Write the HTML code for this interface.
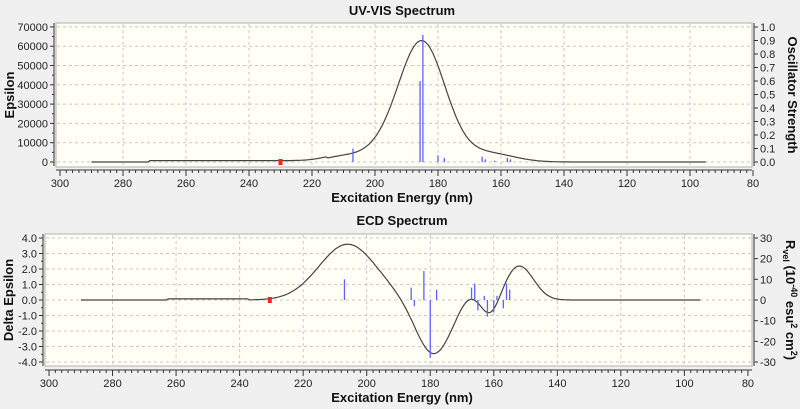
<!DOCTYPE html>
<html><head><meta charset="utf-8"><style>
body{margin:0;background:#f0f0f0;}
svg{display:block;font-family:"Liberation Sans",sans-serif;}
.t{font-size:11px;fill:#222}
.h{font-size:13px;font-weight:bold;fill:#111}
.g{stroke:#c8c8c8;stroke-dasharray:3,3;stroke-width:1}
</style></head><body>
<svg id="s" width="800" height="409" xmlns="http://www.w3.org/2000/svg">
<text class="h" x="402" y="15" text-anchor="middle">UV-VIS Spectrum</text>
<text class="h" x="402" y="225" text-anchor="middle">ECD Spectrum</text>
<text class="h" x="402" y="202" text-anchor="middle">Excitation Energy (nm)</text>
<text class="h" x="402" y="402" text-anchor="middle">Excitation Energy (nm)</text>
<text class="h" transform="translate(14,95) rotate(-90)" text-anchor="middle">Epsilon</text>
<text class="h" transform="translate(788,95) rotate(90)" text-anchor="middle">Oscillator Strength</text>
<text class="h" transform="translate(13,300) rotate(-90)" text-anchor="middle">Delta Epsilon</text>
<text class="h" transform="translate(786,300) rotate(90)" text-anchor="middle">R<tspan font-size="9" dy="3">vel</tspan><tspan dy="-3"> (10</tspan><tspan font-size="9" dy="-5">-40</tspan><tspan dy="5"> esu</tspan><tspan font-size="9" dy="-5">2</tspan><tspan dy="5"> cm</tspan><tspan font-size="9" dy="-5">2</tspan><tspan dy="5">)</tspan></text>
<g id="dyn"></g>
</svg>
<script>
const NS="http://www.w3.org/2000/svg",g=document.getElementById('dyn');
function el(n,a,t){const e=document.createElementNS(NS,n);for(const k in a)e.setAttribute(k,a[k]);if(t!==undefined)e.textContent=t;g.appendChild(e);return e;}
// TOP
const tx=nm=>60+(300-nm)*3.15, ty=v=>162-v/10000*19.3, tyo=f=>162-f*135;
el('rect',{x:56,y:23,width:696,height:144,fill:'#fffff6',stroke:'#b0b0b0'});
for(let nm=280;nm>80;nm-=20)el('line',{class:'g',x1:tx(nm),x2:tx(nm),y1:24,y2:166});
for(let v=0;v<=70000;v+=10000)el('line',{class:'g',x1:57,x2:751,y1:ty(v),y2:ty(v)});
el('line',{x1:54,x2:54,y1:23,y2:166,stroke:'#333'});
for(let v=0;v<=70000;v+=10000){el('line',{x1:50,x2:54,y1:ty(v),y2:ty(v),stroke:'#333'});el('text',{class:'t',x:48,y:ty(v)+4,'text-anchor':'end'},v);}
for(let v=5000;v<70000;v+=10000)el('line',{x1:52,x2:54,y1:ty(v),y2:ty(v),stroke:'#333'});
el('line',{x1:754,x2:754,y1:23,y2:166,stroke:'#333'});
for(let i=0;i<=10;i++){const y=tyo(i/10);el('line',{x1:754,x2:758,y1:y,y2:y,stroke:'#333'});el('text',{class:'t',x:760,y:y+4},(i/10).toFixed(1));}
el('line',{x1:56,x2:752,y1:170,y2:170,stroke:'#333'});
for(let nm=300;nm>=80;nm-=2){const L=nm%20==0?6:3;el('line',{x1:tx(nm),x2:tx(nm),y1:170,y2:170+L,stroke:'#333'});}
for(let nm=300;nm>=80;nm-=20)el('text',{class:'t',x:tx(nm),y:187,'text-anchor':'middle'},nm);
const G=(x,m,s)=>Math.exp(-(x-m)*(x-m)/(2*s*s));
let p='';for(let nm=290;nm>=95;nm-=0.5){let v=61000*G(nm,185,7.4)+4500*G(nm,164,8)+5000*G(nm,198,9)+(nm<272&&nm>215?700:0)+1500*G(nm,212,5);p+=(p?'L':'M')+tx(nm).toFixed(1)+','+ty(v).toFixed(1);}
el('path',{d:p,fill:'none',stroke:'#444','stroke-width':1.2});
[[207,.1],[185.7,.6],[184.8,.94],[180,.05],[178,.03],[166,.04],[165,.02],[162,.01],[157,.02],[158,.03]].forEach(([n,f])=>el('line',{x1:tx(n),x2:tx(n),y1:162,y2:tyo(f),stroke:'#6060ff','stroke-width':1.3}));
el('rect',{x:tx(230)-2,y:159,width:4,height:6,fill:'#ff2020'});
// BOTTOM
const bx=nm=>49+(300-nm)*3.177, by=d=>300-d*15.5;
el('rect',{x:45,y:234,width:707,height:132,fill:'#fffff6',stroke:'#b0b0b0'});
for(let nm=280;nm>80;nm-=20)el('line',{class:'g',x1:bx(nm),x2:bx(nm),y1:235,y2:365});
for(let d=-4;d<=4;d++)el('line',{class:'g',x1:46,x2:751,y1:by(d),y2:by(d)});
el('line',{x1:43,x2:43,y1:234,y2:366,stroke:'#333'});
for(let d=-4;d<=4;d++){el('line',{x1:39,x2:43,y1:by(d),y2:by(d),stroke:'#333'});el('text',{class:'t',x:37,y:by(d)+4,'text-anchor':'end'},d.toFixed(1));}
for(let d=-3.5;d<4;d+=1)el('line',{x1:41,x2:43,y1:by(d),y2:by(d),stroke:'#333'});
el('line',{x1:754,x2:754,y1:234,y2:366,stroke:'#333'});
for(let r=-30;r<=30;r+=10){const y=300-r*2.067;el('line',{x1:754,x2:758,y1:y,y2:y,stroke:'#333'});el('text',{class:'t',x:760,y:y+4},r);}
el('line',{x1:45,x2:752,y1:370,y2:370,stroke:'#333'});
for(let nm=300;nm>=80;nm-=2){const L=nm%20==0?6:3;el('line',{x1:bx(nm),x2:bx(nm),y1:370,y2:370+L,stroke:'#333'});}
for(let nm=300;nm>=80;nm-=20)el('text',{class:'t',x:bx(nm),y:387,'text-anchor':'middle'},nm);
p='';for(let nm=290;nm>=95;nm-=0.5){let d=3.6*G(nm,206,9)-3.5*G(nm,179,5.5)+2.2*G(nm,152,4.5)-1.1*G(nm,161,2.8)+0.5*G(nm,168,3)+(nm<263&&nm>237?0.07:0);p+=(p?'L':'M')+bx(nm).toFixed(1)+','+by(d).toFixed(1);}
el('path',{d:p,fill:'none',stroke:'#444','stroke-width':1.2});
[[207,10],[186,6],[185,-3],[182,14],[180,-28],[178,5],[167,6],[166,8],[165,-5],[163,2],[162,-8],[160,-6],[159,2],[157,-4],[156,8],[155,5]].forEach(([n,r])=>el('line',{x1:bx(n),x2:bx(n),y1:300,y2:300-r*2.067,stroke:'#6060ff','stroke-width':1.3}));
el('rect',{x:bx(230.5)-2,y:297,width:4,height:6,fill:'#ff2020'});
</script>
</body></html>
